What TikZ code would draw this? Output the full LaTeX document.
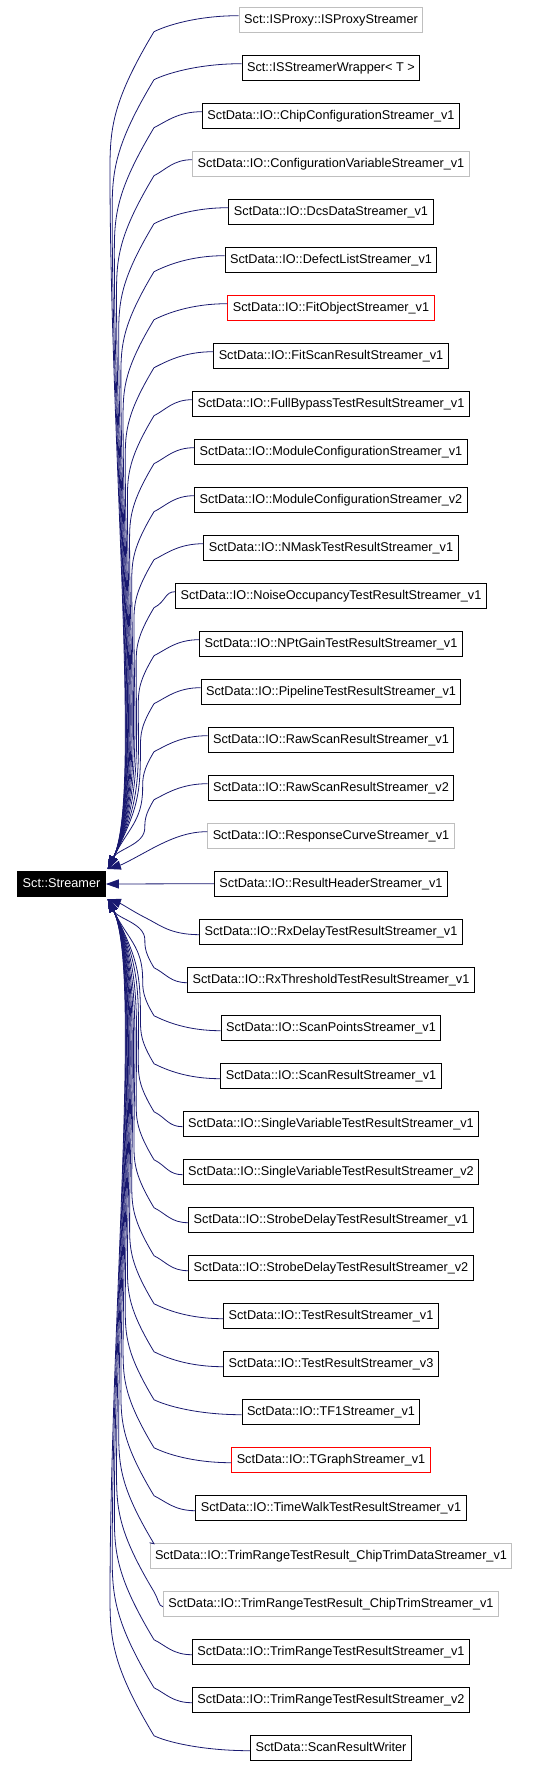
\documentclass[tikz,border=0pt]{standalone}
\usepackage{fontspec}
\setmainfont{Liberation Sans}
\usetikzlibrary{calc,arrows.meta}
\definecolor{edgeblue}{RGB}{25,25,112}
\definecolor{graybox}{RGB}{191,191,191}
\begin{document}
\begin{tikzpicture}[x=1pt,y=-1pt,
  font=\fontsize{12.7}{15}\selectfont,
  box/.style={draw=black, line width=1pt, minimum height=25pt, inner xsep=5pt, inner ysep=0pt,
              text height=9.5pt, text depth=2.5pt, anchor=center, fill=white},
  gbox/.style={box, draw=graybox},
  rbox/.style={box, draw=red},
  edge/.style={draw=edgeblue, line width=0.8pt, -{Triangle[length=13pt,width=9pt]}}]
\useasboundingbox (0,0) rectangle (536,1766);

\foreach \st/\tx [count=\i] in {
 gbox/Sct::ISProxy::ISProxyStreamer,
 box/Sct::ISStreamerWrapper< T >,
 box/SctData::IO::ChipConfigurationStreamer\_v1,
 gbox/SctData::IO::ConfigurationVariableStreamer\_v1,
 box/SctData::IO::DcsDataStreamer\_v1,
 box/SctData::IO::DefectListStreamer\_v1,
 rbox/SctData::IO::FitObjectStreamer\_v1,
 box/SctData::IO::FitScanResultStreamer\_v1,
 box/SctData::IO::FullBypassTestResultStreamer\_v1,
 box/SctData::IO::ModuleConfigurationStreamer\_v1,
 box/SctData::IO::ModuleConfigurationStreamer\_v2,
 box/SctData::IO::NMaskTestResultStreamer\_v1,
 box/SctData::IO::NoiseOccupancyTestResultStreamer\_v1,
 box/SctData::IO::NPtGainTestResultStreamer\_v1,
 box/SctData::IO::PipelineTestResultStreamer\_v1,
 box/SctData::IO::RawScanResultStreamer\_v1,
 box/SctData::IO::RawScanResultStreamer\_v2,
 gbox/SctData::IO::ResponseCurveStreamer\_v1,
 box/SctData::IO::ResultHeaderStreamer\_v1,
 box/SctData::IO::RxDelayTestResultStreamer\_v1,
 box/SctData::IO::RxThresholdTestResultStreamer\_v1,
 box/SctData::IO::ScanPointsStreamer\_v1,
 box/SctData::IO::ScanResultStreamer\_v1,
 box/SctData::IO::SingleVariableTestResultStreamer\_v1,
 box/SctData::IO::SingleVariableTestResultStreamer\_v2,
 box/SctData::IO::StrobeDelayTestResultStreamer\_v1,
 box/SctData::IO::StrobeDelayTestResultStreamer\_v2,
 box/SctData::IO::TestResultStreamer\_v1,
 box/SctData::IO::TestResultStreamer\_v3,
 box/SctData::IO::TF1Streamer\_v1,
 rbox/SctData::IO::TGraphStreamer\_v1,
 box/SctData::IO::TimeWalkTestResultStreamer\_v1,
 gbox/SctData::IO::TrimRangeTestResult\_ChipTrimDataStreamer\_v1,
 gbox/SctData::IO::TrimRangeTestResult\_ChipTrimStreamer\_v1,
 box/SctData::IO::TrimRangeTestResultStreamer\_v1,
 box/SctData::IO::TrimRangeTestResultStreamer\_v2,
 box/SctData::ScanResultWriter}
{
  \pgfmathsetmacro\yy{19.7+48*(\i-1)}
  \node[\st] (n\i) at (331,\yy) {\tx};
}

\node[box, fill=black, text=white] (s) at (61.5,884) {Sct::Streamer};
\coordinate (tu) at ($(s.north east)+(2,-2)$);
\coordinate (td) at ($(s.south east)+(2,2)$);

% straight middle edge
\draw[edge] (n19.west) -- (s.east);

% upper edges
\foreach \i in {1,...,17} {
  \path (n\i.west); \pgfgetlastxy{\wx}{\wy}
  \pgfmathsetmacro\wxx{\wx}
  \pgfmathsetmacro\yc{19.7+48*(\i-1)}
  \pgfmathsetmacro\ky{\yc+12}
  \pgfmathsetmacro\dy{870-\ky}
  \pgfmathsetmacro\L{110+38*(1-\dy/838)}
  \pgfmathsetmacro\h{min(0.14*\dy+20,0.4*\dy)}
  \pgfmathsetmacro\qy{\ky+\h}
  \pgfmathsetmacro\ax{max(\L,154-0.3*\h)}
  \pgfmathsetmacro\ay{\ky+0.5*\h}
  \pgfmathsetmacro\cb{\qy-0.3*\h}
  \pgfmathsetmacro\ca{\qy+0.4*(870-\qy)}
  \pgfmathsetmacro\kk{min(70,0.5*(870-\qy))}
  \pgfmathsetmacro\cx{107+0.5*\kk}
  \pgfmathsetmacro\cy{870-\kk}
  \pgfmathsetmacro\mx{(\wxx+154)/2}
  \draw[edge] ($(n\i.west)+(0,-4)$) .. controls (\mx,\yc-4) and (166,\yc+6) .. (154,\ky)
     .. controls (\ax,\ay) and (\L,\cb) .. (\L,\qy)
     .. controls (\L,\ca) and (\cx,\cy) .. (tu);
}
% box 18 (near)
\draw[edge] ($(n18.west)+(0,-4)$) .. controls (185,831.5) and (166,841.5) .. (154,847.5)
   .. controls (140,855) and (124,864) .. (tu);

% box 20 (near)
\draw[edge] ($(n20.west)+(0,3)$) .. controls (170,934.5) and (160,925) .. (146,918)
   .. controls (134,912) and (122,904) .. (td);

% lower edges
\foreach \i in {21,...,37} {
  \path (n\i.west); \pgfgetlastxy{\wx}{\wy}
  \pgfmathsetmacro\wxx{\wx}
  \pgfmathsetmacro\yc{19.7+48*(\i-1)}
  \pgfmathsetmacro\ky{\yc-12}
  \pgfmathsetmacro\dy{\ky-898}
  \pgfmathsetmacro\L{110+38*(1-\dy/838)}
  \pgfmathsetmacro\h{min(0.14*\dy+20,0.4*\dy)}
  \pgfmathsetmacro\qy{\ky-\h}
  \pgfmathsetmacro\ax{max(\L,154-0.3*\h)}
  \pgfmathsetmacro\ay{\ky-0.5*\h}
  \pgfmathsetmacro\cb{\qy+0.3*\h}
  \pgfmathsetmacro\ca{\qy-0.4*(\qy-898)}
  \pgfmathsetmacro\kk{min(70,0.5*(\qy-898))}
  \pgfmathsetmacro\cx{107+0.5*\kk}
  \pgfmathsetmacro\cy{898+\kk}
  \pgfmathsetmacro\mx{(\wxx+154)/2}
  \ifdim\wxx pt<160pt
    \draw[edge] (n\i.north west) -- (154,\ky)
       .. controls (\ax,\ay) and (\L,\cb) .. (\L,\qy)
       .. controls (\L,\ca) and (\cx,\cy) .. (td);
  \else\ifdim\wxx pt<176pt
    \draw[edge] ($(n\i.west)+(0,3)$) .. controls (\mx,\yc+3) and (158,\yc-6) .. (154,\ky)
       .. controls (\ax,\ay) and (\L,\cb) .. (\L,\qy)
       .. controls (\L,\ca) and (\cx,\cy) .. (td);
  \else
    \draw[edge] ($(n\i.west)+(0,3)$) .. controls (\mx,\yc+3) and (166,\yc-6) .. (154,\ky)
       .. controls (\ax,\ay) and (\L,\cb) .. (\L,\qy)
       .. controls (\L,\ca) and (\cx,\cy) .. (td);
  \fi\fi
}
\end{tikzpicture}
\end{document}
